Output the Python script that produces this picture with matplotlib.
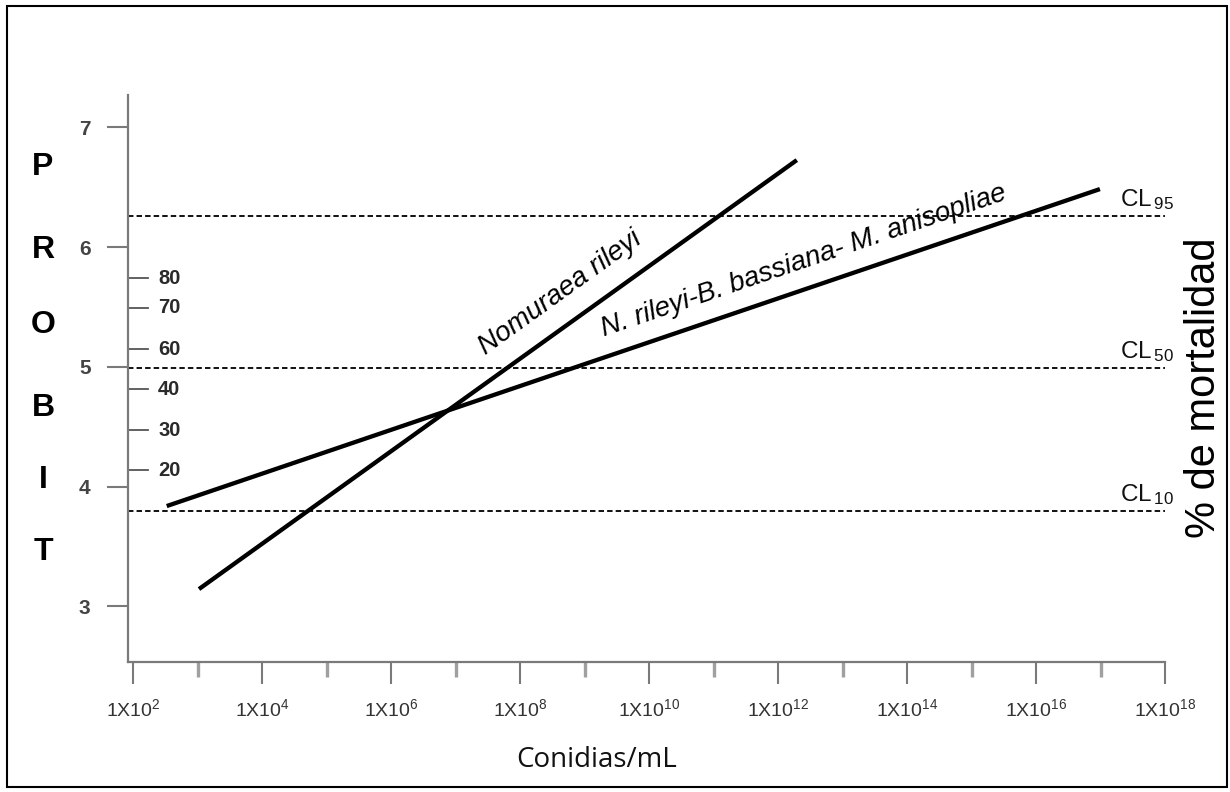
import numpy as np
import matplotlib
matplotlib.use('Agg')
import matplotlib.pyplot as plt
from matplotlib.patches import Rectangle

plt.rcParams['font.family'] = ['Liberation Sans', 'DejaVu Sans']
plt.rcParams['mathtext.default'] = 'regular'

# data (x as log10 of conidias/mL, y in probit units)
nomuraea_logx = [3.02, 12.29]
nomuraea_probit = [3.145, 6.726]
mix_logx = [2.52, 16.99]
mix_probit = [3.838, 6.484]

cl_names = ['95', '50', '10']
cl_probit = [6.263, 4.99, 3.796]

probit_ticks = [3, 4, 5, 6, 7]
pct_labels = ['20', '30', '40', '60', '70', '80']
pct_probit = [4.139, 4.472, 4.815, 5.149, 5.493, 5.741]

major_exp = list(range(2, 19, 2))
minor_exp = list(range(3, 18, 2))

fig = plt.figure(figsize=(12.3, 7.92), dpi=100)
ax = fig.add_axes([0.1041, 0.1641, 0.8431, 0.7159])

# outer frame
fig.patches.append(Rectangle((7 / 1230, 5 / 792), 1220 / 1230, 781 / 792,
                             transform=fig.transFigure, fill=False,
                             edgecolor='black', linewidth=1.5))

ax.set_xscale('log')
ax.set_xlim(10 ** 1.92, 10 ** 18)
ax.set_ylim(2.536, 7.269)

for s in ['top', 'right']:
    ax.spines[s].set_visible(False)
for s in ['left', 'bottom']:
    ax.spines[s].set_color('#7a7a7a')
    ax.spines[s].set_linewidth(1.6)

# x ticks
ax.set_xticks([10.0 ** e for e in major_exp])
ax.set_xticklabels([r'1X10$^{%d}$' % e for e in major_exp])
ax.set_xticks([10.0 ** e for e in minor_exp], minor=True)
ax.xaxis.set_minor_formatter(matplotlib.ticker.NullFormatter())
ax.tick_params(axis='x', which='major', length=16, width=1.5, color='#7a7a7a',
               labelsize=14, labelcolor='#333333', pad=10)
ax.tick_params(axis='x', which='minor', length=11, width=2.4, color='#a0a0a0')

# y ticks
ax.set_yticks(probit_ticks)
ax.set_yticklabels([str(v) for v in probit_ticks])
ax.yaxis.set_minor_locator(matplotlib.ticker.NullLocator())
ax.tick_params(axis='y', length=15, width=1.5, color='#7a7a7a',
               labelsize=15, labelcolor='#444444', pad=12)
for lab in ax.get_yticklabels():
    lab.set_fontweight('bold')

# percent mortality ticks on the inside
ytr = ax.get_yaxis_transform()
for lab, p in zip(pct_labels, pct_probit):
    ax.plot([0, 0.0193], [p, p], color='#555555', lw=1.3, transform=ytr, clip_on=False)
    ax.text(0.029, p, lab, transform=ytr, ha='left', va='center', fontsize=14.5,
            fontweight='bold', family=['Liberation Sans Narrow', 'Liberation Sans'],
            color='#2a2a2a')

# CL dashed lines
for name, p in zip(cl_names, cl_probit):
    ax.axhline(p, color='#111111', lw=1.4, linestyle=(0, (2.8, 1.6)))
    ax.text(10 ** 17.3, p + 0.08, r'CL$_{\,%s}$' % name, fontsize=17.5,
            ha='left', va='baseline', color='#111111')

# regression lines
nx = [10 ** v for v in nomuraea_logx]
mx = [10 ** v for v in mix_logx]
ax.plot(nx, nomuraea_probit, color='black', lw=3.1, solid_capstyle='butt')
ax.plot(mx, mix_probit, color='black', lw=3.1, solid_capstyle='butt')


def line_angle(xs, ys):
    p = ax.transData.transform(np.column_stack([xs, ys]))
    return np.degrees(np.arctan2(p[1, 1] - p[0, 1], p[1, 0] - p[0, 0]))


ax.text(10 ** 8.62, 5.616, 'Nomuraea rileyi', fontsize=20, style='italic',
        rotation=line_angle(nx, nomuraea_probit), rotation_mode='anchor',
        ha='center', va='center')
ax.text(10 ** 12.40, 5.883, 'N. rileyi-B. bassiana- M. anisopliae', fontsize=20,
        style='italic', rotation=line_angle(mx, mix_probit),
        rotation_mode='anchor', ha='center', va='center')

# axis titles
for letter, yy in zip('PROBIT', [167, 250, 325, 408, 480, 552]):
    fig.text(43 / 1230, 1 - yy / 792, letter, fontsize=23, fontweight='bold',
             ha='center', va='center')
fig.text(1204 / 1230, 1 - 388 / 792, '% de mortalidad', fontsize=30, rotation=90,
         ha='center', va='center')
fig.text(597 / 1230, 1 - 760 / 792, 'Conidias/mL', fontsize=20,
         family='Open Sans', ha='center', va='center', color='#111111')

fig.savefig('out.png', dpi=100)
